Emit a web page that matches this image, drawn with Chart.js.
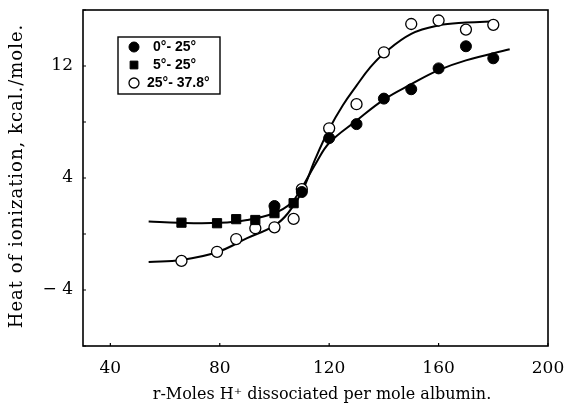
<!DOCTYPE html>
<html>
<head>
<meta charset="utf-8">
<script src="https://cdn.jsdelivr.net/npm/chart.js@4.4.1/dist/chart.umd.min.js"></script>
<style>
  html, body { margin: 0; padding: 0; background: #fff; }
  #wrap { width: 564px; height: 407px; }
</style>
</head>
<body>
<div id="wrap"><canvas id="heatChart"></canvas></div>
<script>
// Measured points (r-Moles H+ dissociated, kcal/mole)
const filledX = [100, 110, 120, 130, 140, 150, 160, 170, 180];
const filledY = [2.0, 3.0, 6.85, 7.85, 9.67, 10.34, 11.83, 13.41, 12.55];

const squareX = [66, 79, 86, 93, 100, 107];
const squareY = [0.81, 0.77, 1.06, 1.0, 1.49, 2.2];

const openX = [66, 79, 86, 93, 100, 107, 110, 120, 130, 140, 150, 160, 170, 180];
const openY = [-1.92, -1.27, -0.36, 0.41, 0.48, 1.08, 3.2, 7.55, 9.27, 12.98, 15.0, 15.25, 14.6, 14.94];

// Drawn curves
const lowCurveX = [54, 65, 80, 90, 100, 106, 110, 115, 120, 130, 140, 150, 160, 170, 186];
const lowCurveY = [0.9, 0.8, 0.8, 1.0, 1.5, 2.2, 3.3, 5.0, 6.5, 8.1, 9.6, 10.7, 11.7, 12.4, 13.2];
const highCurveX = [54, 66, 79, 90, 100, 105, 110, 115, 120, 125, 130, 135, 140, 150, 160, 170, 181];
const highCurveY = [-2.0, -1.85, -1.3, -0.3, 0.6, 1.5, 3.0, 5.4, 7.5, 9.2, 10.6, 11.9, 12.9, 14.3, 14.9, 15.1, 15.2];

const seriesLabels = ['0\u00b0- 25\u00b0', '5\u00b0- 25\u00b0', '25\u00b0- 37.8\u00b0'];
const xTicks = [40, 80, 120, 160, 200];
const yTicks = [-8, -4, 0, 4, 8, 12, 16];
const yTickLabels = [-4, 4, 12];
const xTitle = 'r-Moles H\u207a dissociated per mole albumin.';
const yTitle = 'Heat of ionization, kcal./mole.';

const pts = (xs, ys) => xs.map((x, i) => ({ x: x, y: ys[i] }));

const serif = "'DejaVu Serif', 'Liberation Serif', serif";

const markerStyles = [
    { pointStyle: 'circle', radius: 5.5, backgroundColor: '#000', borderColor: '#000', borderWidth: 1 },
    { pointStyle: 'rect', radius: 6.5, backgroundColor: '#000', borderColor: '#000', borderWidth: 1 },
    { pointStyle: 'circle', radius: 5.5, backgroundColor: '#fff', borderColor: '#000', borderWidth: 1.3 }
];

// Frame, inward tick marks, axis titles and the boxed legend
const framePlugin = {
    id: 'frame',
    afterDraw(chart) {
        const { ctx, chartArea: a, scales } = chart;
        ctx.save();
        ctx.strokeStyle = '#000';
        ctx.lineWidth = 1.6;
        ctx.strokeRect(a.left, a.top, a.right - a.left, a.bottom - a.top);
        ctx.lineWidth = 1.2;
        ctx.beginPath();
        yTicks.forEach(v => {
            const y = scales.y.getPixelForValue(v);
            ctx.moveTo(a.left, y); ctx.lineTo(a.left + 3, y);
        });
        xTicks.forEach(v => {
            const x = scales.x.getPixelForValue(v);
            ctx.moveTo(x, a.bottom); ctx.lineTo(x, a.bottom - 3);
        });
        ctx.stroke();

        // axis titles
        ctx.fillStyle = '#000';
        ctx.textAlign = 'center';
        ctx.textBaseline = 'middle';
        ctx.font = '16px ' + serif;
        ctx.fillText(xTitle, 322, 395);
        ctx.save();
        ctx.translate(17, 176);
        ctx.rotate(-Math.PI / 2);
        ctx.font = '18px ' + serif;
        if ('letterSpacing' in ctx) ctx.letterSpacing = '1px';
        ctx.fillText(yTitle, 0, 0);
        if ('letterSpacing' in ctx) ctx.letterSpacing = '0px';
        ctx.restore();

        // legend
        const lx = a.left + 35, ly = a.top + 27;
        ctx.strokeStyle = '#000';
        ctx.lineWidth = 1.4;
        ctx.strokeRect(lx, ly, 102, 57);
        ctx.font = "bold 14px 'Liberation Sans', Arial, sans-serif";
        ctx.textAlign = 'left';
        seriesLabels.forEach((lab, i) => {
            const cy = ly + 10 + i * 18;
            const st = markerStyles[i];
            ctx.fillStyle = st.backgroundColor;
            ctx.strokeStyle = st.borderColor;
            ctx.lineWidth = st.borderWidth;
            Chart.helpers.drawPoint(ctx, { pointStyle: st.pointStyle, radius: i === 1 ? 5.5 : 5, borderWidth: st.borderWidth }, lx + 16, cy);
            ctx.fillStyle = '#000';
            ctx.fillText(lab, lx + (i === 2 ? 29 : 35), cy);
        });
        ctx.restore();
    }
};

const markerSet = (label, data, st) => ({
    label: label,
    data: data,
    showLine: false,
    pointStyle: st.pointStyle,
    pointRadius: st.radius,
    pointBackgroundColor: st.backgroundColor,
    pointBorderColor: st.borderColor,
    pointBorderWidth: st.borderWidth,
    order: 1
});

const curveSet = (data) => ({
    data: data,
    showLine: true,
    borderColor: '#000',
    borderWidth: 2,
    pointRadius: 0,
    tension: 0.4,
    fill: false,
    order: 2
});

// keep the plot frame where the figure has it
const noScalePad = s => { s.paddingTop = 0; s.paddingBottom = 0; s.paddingLeft = 0; s.paddingRight = 0; };

new Chart(document.getElementById('heatChart'), {
    type: 'scatter',
    data: {
        datasets: [
            curveSet(pts(lowCurveX, lowCurveY)),
            curveSet(pts(highCurveX, highCurveY)),
            markerSet(seriesLabels[0], pts(filledX, filledY), markerStyles[0]),
            markerSet(seriesLabels[1], pts(squareX, squareY), markerStyles[1]),
            markerSet(seriesLabels[2], pts(openX, openY), markerStyles[2])
        ]
    },
    options: {
        responsive: true,
        maintainAspectRatio: false,
        animation: false,
        events: [],
        layout: { padding: { top: 10, right: 16, left: 0, bottom: 0 } },
        plugins: {
            legend: { display: false },
            tooltip: { enabled: false }
        },
        scales: {
            x: {
                type: 'linear',
                min: 30,
                max: 200,
                afterBuildTicks: s => { s.ticks = xTicks.map(v => ({ value: v })); },
                afterFit: s => { s.height = 61; noScalePad(s); },
                grid: { display: false, drawTicks: false },
                border: { display: false },
                ticks: {
                    color: '#000',
                    padding: 12,
                    maxRotation: 0,
                    font: { family: serif, size: 17 }
                }
            },
            y: {
                type: 'linear',
                min: -8,
                max: 16,
                afterBuildTicks: s => { s.ticks = yTicks.map(v => ({ value: v })); },
                afterFit: s => { s.width = 83; noScalePad(s); },
                grid: { display: false, drawTicks: false },
                border: { display: false },
                ticks: {
                    color: '#000',
                    padding: 10,
                    font: { family: serif, size: 17 },
                    callback: v => yTickLabels.includes(v) ? (v < 0 ? '\u2212 ' + Math.abs(v) : String(v)) : ''
                }
            }
        }
    },
    plugins: [framePlugin]
});
</script>
</body>
</html>
